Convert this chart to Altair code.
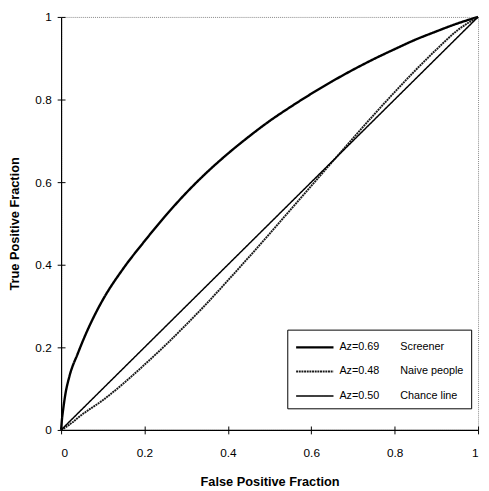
import altair as alt
import pandas as pd

# Screener ROC (Az=0.69)
scr_fpf = [0, 0.002, 0.005, 0.01, 0.02, 0.04, 0.06, 0.08, 0.10, 0.15, 0.20, 0.25, 0.30,
           0.35, 0.40, 0.45, 0.50, 0.55, 0.60, 0.65, 0.70, 0.75, 0.80, 0.85, 0.90, 0.95, 1.0]
scr_tpf = [0, 0.025, 0.050, 0.085, 0.130, 0.185, 0.234, 0.277, 0.315, 0.392, 0.457, 0.518, 0.574,
           0.624, 0.669, 0.710, 0.748, 0.782, 0.814, 0.844, 0.872, 0.898, 0.922, 0.945, 0.965, 0.984, 1.0]

# Naive people ROC (Az=0.48)
nai_fpf = [0, 0.01, 0.02, 0.05, 0.10, 0.15, 0.20, 0.25, 0.30, 0.35, 0.40, 0.45, 0.50,
           0.55, 0.60, 0.65, 0.70, 0.75, 0.80, 0.85, 0.90, 0.95, 1.0]
nai_tpf = [0, 0.006, 0.013, 0.037, 0.072, 0.113, 0.158, 0.205, 0.255, 0.307, 0.362, 0.418, 0.475,
           0.533, 0.591, 0.649, 0.706, 0.763, 0.818, 0.871, 0.921, 0.967, 1.0]

# Chance line (Az=0.50)
chn_fpf = [0, 1]
chn_tpf = [0, 1]

names = ["Screener", "Naive people", "Chance line"]
az = ["0.69", "0.48", "0.50"]
labels = [f"Az={a}" + "\u00a0" * 7 + n for a, n in zip(az, names)]

rows = []
for lab, fx, fy in zip(labels, [scr_fpf, nai_fpf, chn_fpf], [scr_tpf, nai_tpf, chn_tpf]):
    for i, (a, b) in enumerate(zip(fx, fy)):
        rows.append({"series": lab, "fpf": a, "tpf": b, "i": i})
df = pd.DataFrame(rows)

ticks = [0, 0.2, 0.4, 0.6, 0.8, 1]
font = "Liberation Sans"

xscale = alt.Scale(domain=[0, 1], nice=False)
yscale = alt.Scale(domain=[0, 1], nice=False)

leg = dict(title=None, orient="none", legendX=230, legendY=318,
           symbolType="M-2,0H2", symbolSize=361, symbolOffset=10,
           labelFont=font, labelFontSize=11, labelColor="black",
           labelOffset=14, rowPadding=9, padding=7,
           strokeColor="black", fillColor="white", symbolStrokeColor="black")

lines = alt.Chart(df).mark_line(interpolate="monotone").encode(
    x=alt.X("fpf:Q", scale=xscale,
            axis=alt.Axis(values=ticks, format="~g", title="False Positive Fraction", orient="bottom",
                          grid=False, tickSize=4, labelPadding=14, titlePadding=18)),
    y=alt.Y("tpf:Q", scale=yscale,
            axis=alt.Axis(values=ticks, format="~g", title="True Positive Fraction", orient="left",
                          grid=False, tickSize=4, labelPadding=6, titlePadding=14)),
    color=alt.Color("series:N", sort=labels,
                    scale=alt.Scale(domain=labels, range=["black", "#1a1a1a", "black"]),
                    legend=alt.Legend(**leg)),
    strokeDash=alt.StrokeDash("series:N", sort=labels,
                              scale=alt.Scale(domain=labels, range=[[1, 0], [2, 0.7], [1, 0]]),
                              legend=alt.Legend(**leg)),
    strokeWidth=alt.StrokeWidth("series:N", sort=labels,
                                scale=alt.Scale(domain=labels, range=[2.4, 1.5, 0.9]),
                                legend=alt.Legend(**leg)),
    order="i:Q",
)

inner = alt.Chart(df).mark_line(opacity=0).encode(
    x=alt.X("fpf:Q", scale=xscale,
            axis=alt.Axis(values=ticks, orient="bottom", offset=-4, labels=False, domain=False,
                          title=None, grid=False, tickSize=4)),
    y=alt.Y("tpf:Q", scale=yscale,
            axis=alt.Axis(values=ticks, orient="left", offset=-4, labels=False, domain=False,
                          title=None, grid=False, tickSize=4)),
    detail="series:N",
)

chart = alt.layer(inner, lines).resolve_axis(x="independent", y="independent").properties(
    width=424, height=420,
    autosize=alt.AutoSizeParams(type="none"),
    padding={"left": 54, "top": 5, "right": 3, "bottom": 58},
).configure_view(
    stroke="#888888", strokeDash=[1, 1], strokeWidth=1
).configure_axis(
    domainColor="black", domainWidth=1.2, tickColor="black", tickWidth=1,
    labelFont=font, labelFontSize=12, labelColor="black",
    titleFont=font, titleFontSize=13, titleFontWeight="bold", titleColor="black",
)

chart.save("out.html", embed_options={"renderer": "svg", "actions": False})
